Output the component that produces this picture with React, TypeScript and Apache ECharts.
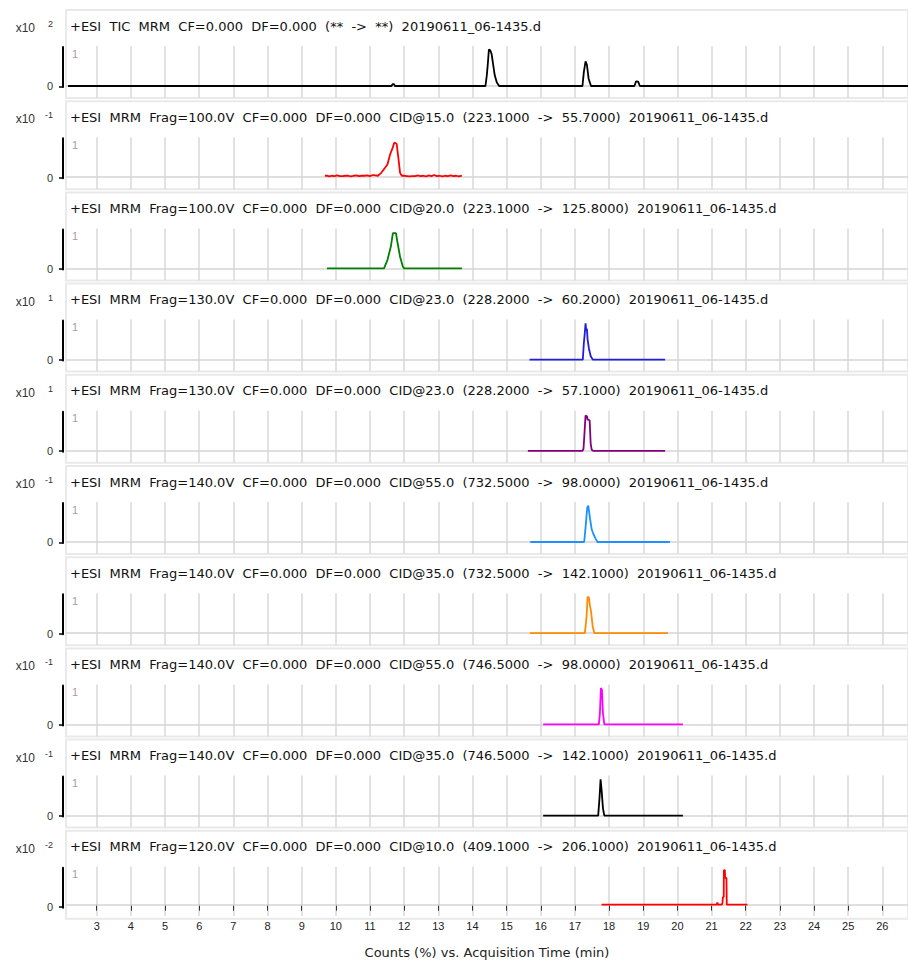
import React, { useEffect, useRef } from 'react';
import * as echarts from 'echarts';

// ---------- data ----------
const X_MIN = 2.1;
const X_MAX = 26.75;
const TICK_VALUES = [3, 4, 5, 6, 7, 8, 9, 10, 11, 12, 13, 14, 15, 16, 17, 18, 19, 20, 21, 22, 23, 24, 25, 26];
const X_TITLE = 'Counts (%) vs. Acquisition Time (min)';

const HEADERS = [
  '+ESI  TIC  MRM  CF=0.000  DF=0.000  (**  ->  **)  20190611_06-1435.d',
  '+ESI  MRM  Frag=100.0V  CF=0.000  DF=0.000  CID@15.0  (223.1000  ->  55.7000)  20190611_06-1435.d',
  '+ESI  MRM  Frag=100.0V  CF=0.000  DF=0.000  CID@20.0  (223.1000  ->  125.8000)  20190611_06-1435.d',
  '+ESI  MRM  Frag=130.0V  CF=0.000  DF=0.000  CID@23.0  (228.2000  ->  60.2000)  20190611_06-1435.d',
  '+ESI  MRM  Frag=130.0V  CF=0.000  DF=0.000  CID@23.0  (228.2000  ->  57.1000)  20190611_06-1435.d',
  '+ESI  MRM  Frag=140.0V  CF=0.000  DF=0.000  CID@55.0  (732.5000  ->  98.0000)  20190611_06-1435.d',
  '+ESI  MRM  Frag=140.0V  CF=0.000  DF=0.000  CID@35.0  (732.5000  ->  142.1000)  20190611_06-1435.d',
  '+ESI  MRM  Frag=140.0V  CF=0.000  DF=0.000  CID@55.0  (746.5000  ->  98.0000)  20190611_06-1435.d',
  '+ESI  MRM  Frag=140.0V  CF=0.000  DF=0.000  CID@35.0  (746.5000  ->  142.1000)  20190611_06-1435.d',
  '+ESI  MRM  Frag=120.0V  CF=0.000  DF=0.000  CID@10.0  (409.1000  ->  206.1000)  20190611_06-1435.d',
];

const EXPONENTS = ['2', '-1', '', '1', '1', '-1', '', '-1', '-1', '-2'];
const COLORS = ['#000000', '#ff0000', '#008000', '#1e1edc', '#800080', '#1e90ff', '#ff8c00', '#ff00ff', '#000000', '#ff0000'];
const Y_LABEL_ZERO = 0;
const Y_LABEL_ONE = 1;

const tic: number[][] = [
  [2.16, 0], [11.63, 0], [11.66, 0.05], [11.7, 0.05], [11.73, 0],
  [14.38, 0], [14.42, 0.3], [14.45, 0.62], [14.48, 1.0], [14.52, 0.98], [14.56, 0.88], [14.6, 0.62], [14.65, 0.3], [14.71, 0.1], [14.78, 0],
  [17.22, 0], [17.26, 0.38], [17.31, 0.68], [17.35, 0.58], [17.4, 0.2], [17.47, 0],
  [18.74, 0], [18.79, 0.13], [18.85, 0.12], [18.9, 0], [26.75, 0],
];
const mrm223to55: number[][] = [
  [9.68, 0.04], [9.76, 0.04], [9.8, 0.02], [9.88, 0.04], [9.96, 0.03], [10.04, 0.05], [10.12, 0.03], [10.2, 0.03],
  [10.28, 0.04], [10.36, 0.04], [10.44, 0.02], [10.52, 0.04], [10.6, 0.05], [10.68, 0.03], [10.76, 0.04], [10.84, 0.04],
  [10.92, 0.05], [11.0, 0.03], [11.08, 0.06], [11.16, 0.05], [11.23, 0.04], [11.33, 0.12], [11.44, 0.26], [11.51, 0.35],
  [11.59, 0.63], [11.66, 0.8], [11.71, 0.95], [11.78, 0.92], [11.83, 0.53], [11.88, 0.12], [11.93, 0.04], [12.0, 0.04],
  [12.08, 0.03], [12.16, 0.02], [12.24, 0.03], [12.32, 0.03], [12.4, 0.05], [12.48, 0.03], [12.56, 0.04], [12.64, 0.02],
  [12.72, 0.05], [12.8, 0.03], [12.88, 0.06], [12.96, 0.03], [13.04, 0.04], [13.12, 0.02], [13.2, 0.04], [13.28, 0.03],
  [13.36, 0.05], [13.44, 0.03], [13.52, 0.04], [13.6, 0.02], [13.69, 0.04],
];
const mrm223to125: number[][] = [
  [9.74, 0], [11.41, 0], [11.51, 0.23], [11.61, 0.6], [11.67, 0.97], [11.76, 0.97], [11.8, 0.74], [11.88, 0.32], [11.96, 0.05], [12.0, 0], [13.69, 0],
];
const mrm228to60: number[][] = [
  [15.67, 0], [17.23, 0], [17.26, 0.45], [17.29, 0.75], [17.31, 1.0], [17.33, 0.8], [17.35, 0.85], [17.37, 0.55], [17.41, 0.3], [17.46, 0.1], [17.52, 0], [19.64, 0],
];
const mrm228to57: number[][] = [
  [15.62, 0], [17.22, 0], [17.25, 0.05], [17.28, 0.5], [17.31, 0.97], [17.35, 0.95], [17.37, 0.86], [17.43, 0.84], [17.46, 0.2], [17.49, 0.03], [17.53, 0], [19.64, 0],
];
const mrm732to98: number[][] = [
  [15.69, 0], [17.27, 0], [17.32, 0.5], [17.36, 0.95], [17.39, 1.0], [17.44, 0.65], [17.49, 0.35], [17.54, 0.22], [17.6, 0.1], [17.66, 0], [19.78, 0],
];
const mrm732to142: number[][] = [
  [15.68, 0], [17.29, 0], [17.34, 0.45], [17.37, 1.0], [17.41, 0.98], [17.44, 0.75], [17.47, 0.6], [17.52, 0.18], [17.57, 0], [19.72, 0],
];
const mrm746to98: number[][] = [
  [16.07, 0], [17.7, 0], [17.73, 0.3], [17.76, 1.0], [17.79, 0.95], [17.82, 0.3], [17.86, 0], [20.16, 0],
];
const mrm746to142: number[][] = [
  [16.07, 0], [17.68, 0], [17.72, 0.5], [17.75, 1.0], [17.78, 0.7], [17.82, 0.2], [17.86, 0], [20.16, 0],
];
const mrm409to206: number[][] = [
  [17.78, 0], [21.15, 0], [21.17, 0.06], [21.19, 0], [21.3, 0], [21.32, 0.05], [21.33, 0.22], [21.355, 0.22],
  [21.36, 1.0], [21.39, 1.0], [21.395, 0.78], [21.435, 0.78], [21.445, 0], [22.05, 0],
];

const TRACES = [tic, mrm223to55, mrm223to125, mrm228to60, mrm228to57, mrm732to98, mrm732to142, mrm746to98, mrm746to142, mrm409to206];

// ---------- layout ----------
const W = 908;
const H = 960;
const PANEL_TOP0 = 10;
const PANEL_PITCH = 91.2;
const PLOT_LEFT = 66;

function buildOption() {
  const grid: any[] = [];
  const xAxis: any[] = [];
  const yAxis: any[] = [];
  const series: any[] = [];
  const graphic: any[] = [];

  TRACES.forEach((data, i) => {
    const T = PANEL_TOP0 + PANEL_PITCH * i;
    const last = i === TRACES.length - 1;

    // panel box
    const gBox = grid.length;
    grid.push({ left: PLOT_LEFT, right: -3, top: T, height: 88, show: true, borderColor: '#e9e9e9', borderWidth: 2, backgroundColor: 'rgba(0,0,0,0)' });
    xAxis.push({ gridIndex: gBox, type: 'value', show: false, min: 0, max: 1 });
    yAxis.push({ gridIndex: gBox, type: 'value', show: false, min: 0, max: 1 });

    // plot grid
    const gMain = grid.length;
    grid.push({ left: PLOT_LEFT, right: 0, top: T + 36, height: 52 });
    const xMain = xAxis.length;
    xAxis.push({
      gridIndex: gMain,
      type: 'value',
      min: X_MIN,
      max: X_MAX,
      splitNumber: 25,
      minInterval: 1,
      maxInterval: 1,
      offset: last ? 3 : 0,
      axisLine: { show: false },
      axisTick: { show: last, customValues: TICK_VALUES, length: 6, lineStyle: { color: '#333', width: 1 } },
      axisLabel: { show: last, customValues: TICK_VALUES, margin: 1, color: '#222', fontSize: 11, fontFamily: '"Liberation Sans", Arial, sans-serif' },
      splitLine: { show: true, lineStyle: { color: '#d9d9d9', width: 1.5 } },
      name: last ? X_TITLE : '',
      nameLocation: 'middle',
      nameGap: 27,
      nameTextStyle: { color: '#222', fontSize: 13, fontFamily: '"DejaVu Sans", sans-serif' },
    });
    const yMain = yAxis.length;
    yAxis.push({ gridIndex: gMain, type: 'value', min: -0.33, max: 1.1, show: false });

    series.push({
      type: 'line',
      xAxisIndex: xMain,
      yAxisIndex: yMain,
      data: [],
      z: 1,
      silent: true,
      markLine: {
        silent: true,
        z: 1,
        symbol: ['none', 'none'],
        label: { show: false },
        lineStyle: { color: '#d4d4d4', type: 'solid', width: 1.5 },
        data: [{ yAxis: 0 }],
      },
    });
    series.push({
      type: 'line',
      xAxisIndex: xMain,
      yAxisIndex: yMain,
      data,
      showSymbol: false,
      symbol: 'none',
      z: 6,
      silent: true,
      lineStyle: { color: COLORS[i], width: 1.8 },
      itemStyle: { color: COLORS[i] },
    });

    // y axis (thick black line, "0" and "1")
    const gAux = grid.length;
    grid.push({ left: 63, width: 2, top: T + 37, height: 40 });
    xAxis.push({ gridIndex: gAux, type: 'value', show: false, min: 0, max: 1 });
    yAxis.push({
      gridIndex: gAux,
      type: 'value',
      min: -0.02,
      max: 1.2,
      position: 'left',
      axisLine: { show: true, onZero: false, lineStyle: { color: '#000', width: 2 } },
      axisTick: { show: true, length: 4, customValues: [Y_LABEL_ZERO], lineStyle: { color: '#000', width: 1.5 } },
      axisLabel: { customValues: [Y_LABEL_ZERO], margin: 10, color: '#333', fontSize: 11, fontFamily: '"Liberation Sans", Arial, sans-serif' },
      splitLine: { show: false },
    });
    yAxis.push({
      gridIndex: gAux,
      type: 'value',
      min: -0.02,
      max: 1.2,
      position: 'left',
      axisLine: { show: false, onZero: false },
      axisTick: { show: false },
      axisLabel: { inside: true, customValues: [Y_LABEL_ONE], margin: 9, color: '#ae9aa2', fontSize: 11, fontFamily: '"Liberation Sans", Arial, sans-serif' },
      splitLine: { show: false },
    });

    // header & scale factor
    graphic.push({
      type: 'text',
      x: 70,
      y: T + 16,
      silent: true,
      style: { text: HEADERS[i], fill: '#111', font: '13px "DejaVu Sans", sans-serif', align: 'left', verticalAlign: 'middle' },
    });
    if (EXPONENTS[i]) {
      graphic.push({
        type: 'text',
        x: 35,
        y: T + 18,
        silent: true,
        style: { text: 'x10', fill: '#333', font: '12px "Liberation Sans", Arial, sans-serif', align: 'right', verticalAlign: 'middle' },
      });
      graphic.push({
        type: 'text',
        x: 53,
        y: T + 14,
        silent: true,
        style: { text: EXPONENTS[i], fill: '#333', font: '9px "Liberation Sans", Arial, sans-serif', align: 'right', verticalAlign: 'middle' },
      });
    }
  });

  return {
    animation: false,
    backgroundColor: '#ffffff',
    grid,
    xAxis,
    yAxis,
    series,
    graphic,
  };
}

export default function App() {
  const ref = useRef<HTMLDivElement | null>(null);
  useEffect(() => {
    if (!ref.current) return;
    const chart = echarts.init(ref.current, undefined, { renderer: 'svg', width: W, height: H });
    chart.setOption(buildOption() as any);
    return () => chart.dispose();
  }, []);
  return (
    <div
      ref={ref}
      style={{ position: 'absolute', left: 0, top: 0, width: W, height: H, background: '#fff' }}
    />
  );
}
